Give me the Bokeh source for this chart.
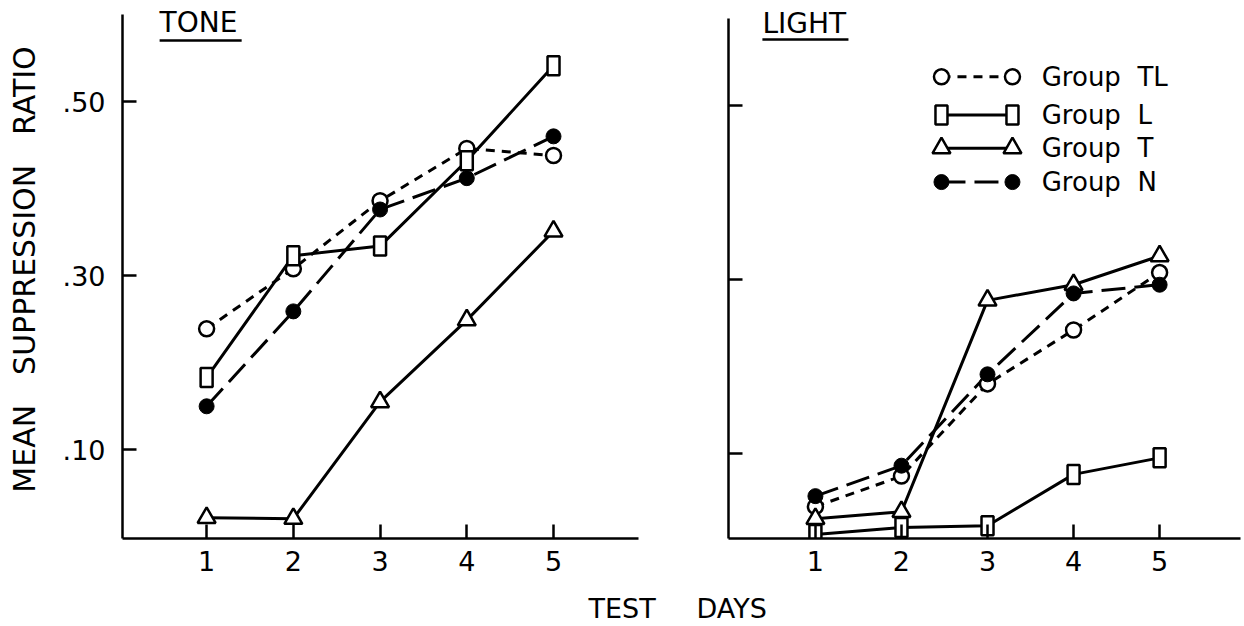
from bokeh.plotting import figure
from bokeh.layouts import row, column
from bokeh.models import Label, FixedTicker
from bokeh.embed import file_html
from bokeh.resources import INLINE

# ---------------- data ----------------
days = [1, 2, 3, 4, 5]
x_tick_labels = ["1", "2", "3", "4", "5"]
y_ticks = [0.10, 0.30, 0.50]
y_tick_labels = [".10", ".30", ".50"]

tone_tl = [0.239, 0.308, 0.386, 0.446, 0.438]
tone_l = [0.183, 0.323, 0.334, 0.432, 0.541]
tone_t = [0.022, 0.021, 0.155, 0.249, 0.351]
tone_n = [0.150, 0.259, 0.376, 0.412, 0.460]

light_tl = [0.039, 0.074, 0.180, 0.242, 0.308]
light_l = [0.007, 0.015, 0.017, 0.076, 0.095]
light_t = [0.025, 0.033, 0.276, 0.294, 0.327]
light_n = [0.051, 0.086, 0.191, 0.284, 0.294]

group_keys = ["TL", "L", "T", "N"]
group_names = ["Group\u00a0\u00a0TL", "Group\u00a0\u00a0L", "Group\u00a0\u00a0T", "Group\u00a0\u00a0N"]

FONT = "DejaVu Sans"
LW = 3
PANEL_H = 586
STRIP_H = 40

STYLE = {
    "TL": dict(dash="9 7"),
    "L": dict(dash="solid"),
    "T": dict(dash="solid"),
    "N": dict(dash="24 9"),
}


def draw_markers(p, xs, ys, key):
    if key == "TL":
        p.scatter(xs, ys, marker="circle", size=15, fill_color="white",
                  line_color="black", line_width=2.5)
    elif key == "L":
        p.rect(xs, ys, width=12, height=19, width_units="screen",
               height_units="screen", fill_color="white", line_color="black",
               line_width=2.5)
    elif key == "T":
        p.scatter(xs, ys, marker="triangle", size=18, fill_color="white",
                  line_color="black", line_width=2.5)
    else:
        p.scatter(xs, ys, marker="circle", size=15, fill_color="black",
                  line_color="black", line_width=1)


def draw_series(p, series):
    for key, ys in series:
        p.line(days, ys, line_color="black", line_width=LW, line_dash=STYLE[key]["dash"])
    for key, ys in series:
        draw_markers(p, days, ys, key)


def style_axes(p, show_ylabels, y_start):
    p.outline_line_color = None
    p.xgrid.visible = False
    p.ygrid.visible = False
    p.background_fill_color = "white"
    p.border_fill_color = "white"
    for ax in (p.xaxis[0], p.yaxis[0]):
        ax.axis_line_width = 2.5
        ax.axis_line_color = "black"
        ax.major_tick_line_width = 2.5
        ax.major_tick_line_color = "black"
        ax.major_tick_in = 14
        ax.major_tick_out = 0
        ax.minor_tick_line_color = None
        ax.major_label_text_font = FONT
        ax.major_label_text_color = "black"
        ax.major_label_text_font_size = "27px"
    p.xaxis[0].ticker = FixedTicker(ticks=days)
    p.xaxis[0].major_label_overrides = {d: t for d, t in zip(days, x_tick_labels)}
    p.xaxis[0].major_label_standoff = 12
    p.yaxis[0].ticker = FixedTicker(ticks=y_ticks)
    p.yaxis[0].bounds = (y_start, 0.6)
    if show_ylabels:
        p.yaxis[0].major_label_overrides = {v: t for v, t in zip(y_ticks, y_tick_labels)}
    else:
        p.yaxis[0].major_label_overrides = {v: "" for v in y_ticks}
    p.yaxis[0].major_label_standoff = 17


def label(p, x, y, text, size, align="left"):
    p.add_layout(Label(x=x, y=y, text=text, text_font=FONT, text_font_size=size,
                       text_color="black", text_baseline="middle", text_align=align))


# ---------------- left panel (TONE) ----------------
L_Y0 = -0.0018
p1 = figure(width=684, height=PANEL_H, x_range=(0.03, 5.98), y_range=(L_Y0, 0.616),
            output_backend="svg", toolbar_location=None,
            min_border_left=122, min_border_right=46, min_border_top=0,
            min_border_bottom=PANEL_H - 538)
style_axes(p1, True, L_Y0)
p1.yaxis[0].axis_label = "MEAN\u2003SUPPRESSION\u2003RATIO"
p1.yaxis[0].axis_label_text_font = FONT
p1.yaxis[0].axis_label_text_font_size = "30px"
p1.yaxis[0].axis_label_text_font_style = "normal"
p1.yaxis[0].axis_label_text_color = "black"
p1.yaxis[0].axis_label_standoff = 18

draw_series(p1, [("TL", tone_tl), ("L", tone_l), ("T", tone_t), ("N", tone_n)])

label(p1, 0.458, 0.591, "TONE", "28px")
p1.segment(x0=[0.458], y0=[0.570], x1=[1.404], y1=[0.570], line_color="black", line_width=2.5)

# ---------------- right panel (LIGHT) ----------------
R_Y0 = 0.0023
p2 = figure(width=560, height=PANEL_H, x_range=(-0.01, 5.94), y_range=(R_Y0, 0.6207),
            output_backend="svg", toolbar_location=None,
            min_border_left=44, min_border_right=4, min_border_top=0,
            min_border_bottom=PANEL_H - 538)
style_axes(p2, False, R_Y0)

draw_series(p2, [("TL", light_tl), ("L", light_l), ("T", light_t), ("N", light_n)])

label(p2, 0.384, 0.594, "LIGHT", "28px")
p2.segment(x0=[0.384], y0=[0.576], x1=[1.384], y1=[0.576], line_color="black", line_width=2.5)

# legend (drawn manually: marker - line - marker, text)
leg_x0, leg_x1, leg_tx = 2.465, 3.29, 3.63
leg_y = [0.533, 0.489, 0.451, 0.412]
for key, name, ly in zip(group_keys, group_names, leg_y):
    p2.line([leg_x0, leg_x1], [ly, ly], line_color="black", line_width=LW,
            line_dash=STYLE[key]["dash"])
    draw_markers(p2, [leg_x0, leg_x1], [ly, ly], key)
    label(p2, leg_tx, ly, name, "26px")

# ---------------- shared x-axis title strip ----------------
p3 = figure(width=1244, height=STRIP_H, x_range=(0, 1244), y_range=(0, STRIP_H),
            output_backend="svg", toolbar_location=None,
            x_axis_location=None, y_axis_location=None,
            min_border_left=0, min_border_right=0, min_border_top=0, min_border_bottom=0)
p3.outline_line_color = None
p3.xgrid.visible = False
p3.ygrid.visible = False
label(p3, 588, 18, "TEST", "27px")
label(p3, 696, 18, "DAYS", "27px")

layout = column(row(p1, p2), p3)
open("out.html", "w").write(file_html(layout, INLINE))
